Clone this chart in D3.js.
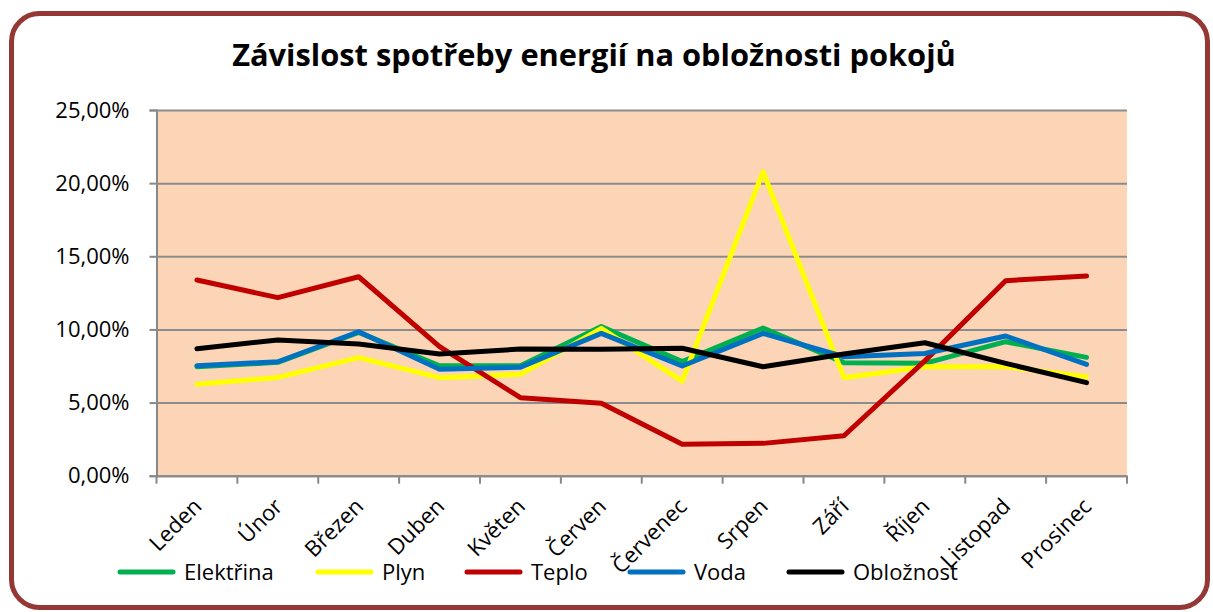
<!DOCTYPE html>
<html>
<head>
<meta charset="utf-8">
<script src="https://cdn.jsdelivr.net/npm/d3@7"></script>
<style>
  body { margin: 0; background: #fff; }
  svg text { font-family: "Open Sans", "Noto Sans", sans-serif; fill: #000; }
</style>
</head>
<body>
<div id="chart"></div>
<script>
const months = ['Leden', 'Únor', 'Březen', 'Duben', 'Květen', 'Červen', 'Červenec', 'Srpen', 'Září', 'Říjen', 'Listopad', 'Prosinec'];
const seriesNames = ['Elektřina', 'Plyn', 'Teplo', 'Voda', 'Obložnost'];
const seriesColors = ['#00B050', '#FFFF00', '#C00000', '#0070C0', '#000000'];
// values in percent
const elektrina = [7.45, 7.75, 9.8, 7.52, 7.52, 10.2, 7.8, 10.1, 7.73, 7.68, 9.16, 8.09];
const plyn = [6.25, 6.72, 8.07, 6.7, 6.93, 10.07, 6.47, 20.78, 6.7, 7.45, 7.45, 6.77];
const teplo = [13.38, 12.17, 13.6, 8.82, 5.33, 4.95, 2.15, 2.21, 2.73, 7.85, 13.33, 13.65];
const voda = [7.52, 7.79, 9.84, 7.27, 7.41, 9.73, 7.5, 9.73, 8.13, 8.35, 9.55, 7.61];
const oblozost = [8.68, 9.28, 9.0, 8.32, 8.66, 8.64, 8.71, 7.45, 8.32, 9.09, 7.68, 6.36];
const yTicks = [0, 5, 10, 15, 20, 25];
const title = 'Závislost spotřeby energií na obložnosti pokojů';

const W = 1213, H = 612;
const plot = { left: 156.5, right: 1127, top: 110, bottom: 475.7 };
const labelSize = 22;

const svg = d3.select('#chart').append('svg')
    .attr('width', W)
    .attr('height', H);

// outer frame
svg.append('rect')
    .attr('x', 11.5).attr('y', 13.5)
    .attr('width', 1196).attr('height', 594)
    .attr('rx', 28).attr('ry', 28)
    .attr('fill', '#fff')
    .attr('stroke', '#953735')
    .attr('stroke-width', 5);

const x = d3.scaleBand()
    .domain(months)
    .range([plot.left, plot.right]);

const y = d3.scaleLinear()
    .domain([0, 25])
    .range([plot.bottom, plot.top]);

// plot background
svg.append('rect')
    .attr('x', plot.left).attr('y', plot.top)
    .attr('width', plot.right - plot.left)
    .attr('height', plot.bottom - plot.top)
    .attr('fill', '#FBD5B5');

// gridlines + y axis
const yAxis = svg.append('g')
    .attr('transform', `translate(${plot.left},0)`)
    .call(d3.axisLeft(y)
        .tickValues(yTicks)
        .tickSize(7)
        .tickPadding(20)
        .tickFormat(d => d3.format('.2f')(d).replace('.', ',') + '%'));
yAxis.select('.domain').attr('stroke', '#888').attr('stroke-width', 2);
yAxis.selectAll('.tick line').attr('stroke', '#888').attr('stroke-width', 2);
yAxis.selectAll('text').attr('font-size', labelSize).attr('fill', '#000');
yAxis.selectAll('.tick').append('line')
    .attr('x1', 0).attr('x2', plot.right - plot.left)
    .attr('stroke', '#8c8c8c').attr('stroke-width', 2);

// x axis
const xAxis = svg.append('g')
    .attr('transform', `translate(0,${plot.bottom})`)
    .call(d3.axisBottom(x).tickSize(0).tickFormat(d => d));
xAxis.select('.domain').attr('stroke', '#888').attr('stroke-width', 2);
xAxis.selectAll('text')
    .attr('font-size', labelSize)
    .style('text-anchor', 'end')
    .attr('dx', 0).attr('dy', 0)
    .attr('transform', 'translate(4,30) rotate(-45)');
// tick marks at category boundaries
const boundaries = months.map(m => x(m)).concat([plot.right]);
xAxis.selectAll('.bound')
    .data(boundaries)
    .enter()
    .append('line')
    .attr('x1', d => d).attr('x2', d => d)
    .attr('y1', 0).attr('y2', 8)
    .attr('stroke', '#888').attr('stroke-width', 2);

// lines
const allSeries = [elektrina, plyn, teplo, voda, oblozost];
const line = d3.line()
    .x((d, i) => x(months[i]) + x.bandwidth() / 2)
    .y(d => y(d));

svg.selectAll('.series')
    .data(allSeries)
    .enter()
    .append('path')
    .attr('class', 'series')
    .attr('d', d => line(d))
    .attr('fill', 'none')
    .attr('stroke', (d, i) => seriesColors[i])
    .attr('stroke-width', 5)
    .attr('stroke-linejoin', 'round')
    .attr('stroke-linecap', 'round');

// title
svg.append('text')
    .attr('x', 594)
    .attr('y', 66)
    .attr('text-anchor', 'middle')
    .attr('font-size', 30.8)
    .attr('font-weight', 'bold')
    .text(title);

// legend
const legendX = [120, 318, 467, 630, 789];
const legend = svg.selectAll('.legend')
    .data(seriesNames)
    .enter()
    .append('g')
    .attr('class', 'legend')
    .attr('transform', (d, i) => `translate(${legendX[i]},572)`);
legend.append('line')
    .attr('x1', 0).attr('x2', 53)
    .attr('stroke', (d, i) => seriesColors[i])
    .attr('stroke-width', 5)
    .attr('stroke-linecap', 'round');
legend.append('text')
    .attr('x', 64)
    .attr('dy', '0.35em')
    .attr('font-size', labelSize)
    .text(d => d);
</script>
</body>
</html>
